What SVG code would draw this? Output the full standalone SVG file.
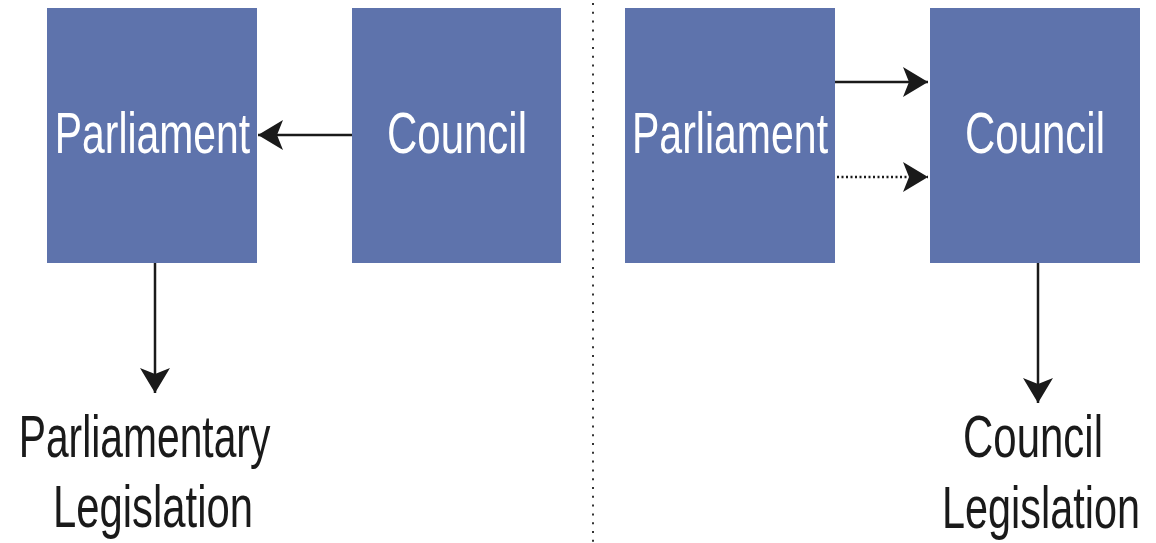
<svg xmlns="http://www.w3.org/2000/svg" width="1156" height="543" viewBox="0 0 1156 543">
<style>
.box{fill:#5E73AC}
.bt{font-family:"Liberation Sans",Arial,sans-serif;font-size:57px;fill:#fff;text-anchor:middle}
.lt{font-family:"Liberation Sans",Arial,sans-serif;font-size:60px;fill:#1a1a1a;text-anchor:middle}
.ln{stroke:#1a1a1a;stroke-width:2.5;fill:none}
</style>
<defs>
<marker id="ah" markerUnits="userSpaceOnUse" markerWidth="30" markerHeight="34" refX="25" refY="15" orient="auto" viewBox="0 0 30 30">
<path d="M0,0 L25,15 L0,30 L6,15 z" fill="#1a1a1a"/>
</marker>
</defs>
<rect width="1156" height="543" fill="#fff"/>
<line x1="593" y1="3" x2="593" y2="543" stroke="#333" stroke-width="2" stroke-dasharray="2,6.8"/>
<g id="left-parliament"><rect class="box" x="47" y="8" width="210" height="255"/><text class="bt" transform="translate(152.5,153) scale(0.717,1)">Parliament</text></g>
<g id="left-council"><rect class="box" x="352" y="8" width="209" height="255"/><text class="bt" transform="translate(457,153) scale(0.737,1)">Council</text></g>
<g id="parliamentary-legislation"><text class="lt" transform="translate(144.5,457) scale(0.68,1)">Parliamentary</text><text class="lt" transform="translate(153,527) scale(0.697,1)">Legislation</text></g>
<g id="right-parliament"><rect class="box" x="625" y="8" width="210" height="255"/><text class="bt" transform="translate(730,153) scale(0.72,1)">Parliament</text></g>
<g id="right-council"><rect class="box" x="930" y="8" width="210" height="255"/><text class="bt" transform="translate(1035,153) scale(0.737,1)">Council</text></g>
<g id="council-legislation"><text class="lt" transform="translate(1033,457) scale(0.70,1)">Council</text><text class="lt" transform="translate(1041,528) scale(0.69,1)">Legislation</text></g>
<g id="connectors">
<line class="ln" x1="352" y1="135" x2="258" y2="135" marker-end="url(#ah)"/>
<line class="ln" x1="155" y1="263" x2="155" y2="393" marker-end="url(#ah)"/>
<line class="ln" x1="835" y1="82" x2="928" y2="82" marker-end="url(#ah)"/>
<line class="ln" x1="837" y1="177" x2="928" y2="177" stroke-dasharray="2,2.5" marker-end="url(#ah)"/>
<line class="ln" x1="1038" y1="263" x2="1038" y2="403" marker-end="url(#ah)"/>
</g>
</svg>
